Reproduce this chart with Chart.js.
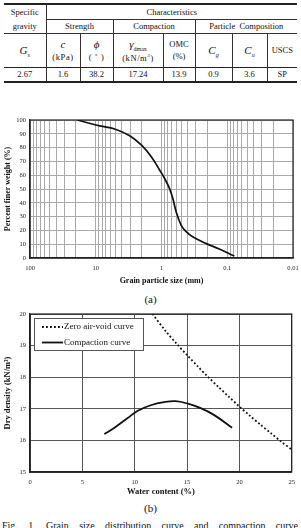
<!DOCTYPE html>
<html><head><meta charset="utf-8">
<script src="https://cdn.jsdelivr.net/npm/chart.js@4"></script>
<style>
html,body{margin:0;padding:0;background:#fff;width:301px;height:528px;overflow:hidden;font-family:"Liberation Serif",serif;color:#111}
#tbl{position:absolute;left:4px;top:3px;width:293px;border-collapse:collapse;table-layout:fixed;font-size:8.5px;text-align:center;color:#111}
#tbl td{padding:0;line-height:1;white-space:nowrap;overflow:hidden;vertical-align:middle}
#tbl tr.r1 td{border-top:2px solid #222;height:14px}
#tbl tr.r2 td{height:13px}
#tbl tr.r3 td{height:33px;border-top:1px solid #333;border-bottom:1.5px solid #222;line-height:1.35}
#tbl tr.r4 td{height:13px;border-bottom:2px solid #222}
.br{border-right:1px solid #333}
.bb{border-bottom:1px solid #333}
.it{font-style:italic;font-size:11px}
.u{letter-spacing:0.6px}
.box{position:absolute}
.cap{position:absolute;left:0;width:301px;text-align:center;font-size:11px}
#fig{position:absolute;left:2px;top:519.5px;width:296px;font-size:10px;text-align:justify;text-align-last:justify;white-space:nowrap;word-spacing:4px}
</style></head>
<body>
<table id="tbl">
<colgroup><col style="width:42px"><col style="width:34px"><col style="width:33px"><col style="width:50px"><col style="width:32px"><col style="width:37px"><col style="width:35px"><col style="width:30px"></colgroup>
<tr class="r1"><td rowspan="2" class="br" style="line-height:14px">Specific<br>gravity</td><td colspan="7" class="bb">Characteristics</td></tr>
<tr class="r2"><td colspan="2" class="br">Strength</td><td colspan="2" class="br">Compaction</td><td colspan="3">Particle&nbsp; Composition</td></tr>
<tr class="r3"><td class="br"><span class="it">G</span><sub style="font-style:italic;font-size:6px">s</sub></td><td class="br"><span class="it">c</span><br><span class="u">(kPa)</span></td><td class="br"><span class="it">ϕ</span><br><span class="u">(&nbsp;˚&nbsp;)</span></td><td class="br"><span class="it">γ</span><sub style="font-size:6px">dmax</sub><br><span class="u">(kN/m<sup style="font-size:5px">3</sup>)</span></td><td class="br">OMC<br>(%)</td><td class="br"><span class="it">C</span><sub style="font-style:italic;font-size:6px">g</sub></td><td class="br"><span class="it">C</span><sub style="font-style:italic;font-size:6px">u</sub></td><td>USCS</td></tr>
<tr class="r4"><td class="br">2.67</td><td class="br">1.6</td><td class="br">38.2</td><td class="br">17.24</td><td class="br">13.9</td><td class="br">0.9</td><td class="br">3.6</td><td>SP</td></tr>
</table>

<div class="box" style="left:0;top:110px;width:301px;height:180px"><canvas id="ca"></canvas></div>
<div class="cap" style="top:293px">(a)</div>
<div class="box" style="left:0;top:306px;width:301px;height:194px"><canvas id="cb"></canvas></div>
<div class="cap" style="top:502px">(b)</div>
<div id="fig">Fig. 1. Grain size distribution curve and compaction curve</div>

<script>
// ---- data: (a) grain size distribution ----
const grainSize = [19, 8.7, 5.15, 3.05, 2.03, 1.43, 1.07, 0.90, 0.757, 0.674, 0.599, 0.504, 0.422, 0.336, 0.211, 0.132, 0.078];
const percentFiner = [100, 95.7, 93.5, 88.6, 81.9, 73.4, 63.8, 57.8, 50.5, 43.3, 33.6, 23.9, 19.1, 15.4, 10.6, 6.5, 1.4];
const sizeDecades = [100, 10, 1, 0.1, 0.01];
const sizeTickLabels = ['100', '10', '1', '0.1', '0.01'];

// ---- data: (b) compaction ----
const zavWater = [11.7, 13, 14, 15, 16, 17, 18, 19, 20, 21, 22, 23, 24, 25];
const zavDensity = [20.0, 19.44, 19.06, 18.70, 18.35, 18.01, 17.69, 17.38, 17.07, 16.78, 16.50, 16.23, 15.96, 15.71];
const compWater = [7.1, 8.1, 9.3, 10.3, 11.6, 12.8, 13.9, 15.0, 16.3, 17.6, 19.3];
const compDensity = [16.20, 16.41, 16.70, 16.94, 17.12, 17.21, 17.24, 17.17, 17.02, 16.80, 16.40];
const seriesLabels = ['Zero air-void curve', 'Compaction curve'];

const SERIF = '"Liberation Serif", "Times New Roman", serif';
Chart.defaults.font.family = SERIF;
Chart.defaults.color = '#222';

const framePlugin = {
  id: 'frame',
  afterDraw(chart) {
    const a = chart.chartArea, ctx = chart.ctx;
    ctx.save();
    ctx.strokeStyle = '#222';
    ctx.lineWidth = 1.2;
    ctx.strokeRect(a.left, a.top, a.right - a.left, a.bottom - a.top);
    ctx.restore();
  }
};

// (a)
new Chart(document.getElementById('ca'), {
  type: 'line',
  data: {
    datasets: [{
      data: grainSize.map((s, i) => ({x: s, y: percentFiner[i]})),
      borderColor: '#111', borderWidth: 1.7, pointRadius: 0, tension: 0.4, fill: false
    }]
  },
  options: {
    responsive: true, maintainAspectRatio: false, animation: false, devicePixelRatio: 1,
    layout: {padding: {top: 10, right: 8, left: 0, bottom: 0}},
    plugins: {legend: {display: false}, tooltip: {enabled: false}},
    scales: {
      x: {
        type: 'logarithmic', reverse: true, min: 0.01, max: 100,
        afterBuildTicks(scale) {
          const t = [];
          for (let e = -2; e <= 1; e++) for (let j = 1; j <= 9; j++) t.push({value: +(j * Math.pow(10, e)).toPrecision(6)});
          t.push({value: 100});
          scale.ticks = t;
        },
        afterFit(scale) { scale.height = 32; },
        ticks: {
          autoSkip: false, maxRotation: 0, padding: 6, font: {size: 6.5},
          callback(v) { const i = sizeDecades.findIndex(d => Math.abs(d - v) < d * 1e-6); return i >= 0 ? sizeTickLabels[i] : ''; }
        },
        grid: {color: '#aaa', lineWidth: 1, drawTicks: false},
        border: {color: '#222', width: 1.2},
        title: {display: true, text: 'Grain particle size (mm)', font: {size: 8, weight: 'bold'}, padding: {top: 0, bottom: 4}, color: '#111'}
      },
      y: {
        min: 0, max: 100,
        afterFit(scale) { scale.width = 30; },
        ticks: {stepSize: 10, padding: 4, font: {size: 6.5}},
        grid: {color: '#aaa', lineWidth: 1, drawTicks: false},
        border: {color: '#222', width: 1.2},
        title: {display: true, text: 'Percent finer weight (%)', font: {size: 8, weight: 'bold'}, padding: {top: 3, bottom: 0}, color: '#111'}
      }
    }
  },
  plugins: [framePlugin]
});

// (b)
const legendBoxPlugin = {
  id: 'legendBox',
  afterDraw(chart) {
    const a = chart.chartArea, ctx = chart.ctx;
    const x0 = a.left + 4, y0 = a.top + 4, w = 109, h = 32;
    ctx.save();
    ctx.fillStyle = '#fff';
    ctx.fillRect(x0, y0, w, h);
    ctx.strokeStyle = '#555';
    ctx.lineWidth = 1;
    ctx.strokeRect(x0 + 0.5, y0 + 0.5, w, h);
    ctx.font = '9px ' + SERIF;
    ctx.textBaseline = 'middle';
    ctx.fillStyle = '#111';
    chart.data.datasets.forEach((ds, i) => {
      const yy = y0 + 9 + i * 15.5;
      ctx.beginPath();
      ctx.setLineDash(ds.borderDash || []);
      ctx.strokeStyle = ds.borderColor;
      ctx.lineWidth = ds.borderWidth;
      ctx.moveTo(x0 + 8, yy);
      ctx.lineTo(x0 + 29, yy);
      ctx.stroke();
      ctx.setLineDash([]);
      ctx.fillText(ds.label, x0 + 30, yy);
    });
    ctx.restore();
  }
};

new Chart(document.getElementById('cb'), {
  type: 'line',
  data: {
    datasets: [
      {label: seriesLabels[0], data: zavWater.map((w, i) => ({x: w, y: zavDensity[i]})),
       borderColor: '#111', borderWidth: 1.8, borderDash: [1.8, 2.2], pointRadius: 0, tension: 0.3, fill: false},
      {label: seriesLabels[1], data: compWater.map((w, i) => ({x: w, y: compDensity[i]})),
       borderColor: '#111', borderWidth: 1.8, pointRadius: 0, tension: 0.4, fill: false}
    ]
  },
  options: {
    responsive: true, maintainAspectRatio: false, animation: false, devicePixelRatio: 1,
    layout: {padding: {top: 8, right: 8, left: 0, bottom: 0}},
    plugins: {legend: {display: false}, tooltip: {enabled: false}},
    scales: {
      x: {
        type: 'linear', min: 0, max: 25,
        afterFit(scale) { scale.height = 28; },
        ticks: {stepSize: 5, padding: 6, font: {size: 6.5}, maxRotation: 0},
        grid: {color: '#555', lineWidth: 1, drawTicks: false},
        border: {color: '#222', width: 1.2},
        title: {display: true, text: 'Water content (%)', font: {size: 8.5, weight: 'bold'}, padding: {top: 0, bottom: 3}, color: '#111'}
      },
      y: {
        min: 15, max: 20,
        afterFit(scale) { scale.width = 30; },
        ticks: {stepSize: 1, padding: 4, font: {size: 6.5}},
        grid: {color: '#555', lineWidth: 1, drawTicks: false},
        border: {color: '#222', width: 1.2},
        title: {display: true, text: 'Dry density (kN/m³)', font: {size: 8.5, weight: 'bold'}, padding: {top: 3, bottom: 0}, color: '#111'}
      }
    }
  },
  plugins: [framePlugin, legendBoxPlugin]
});
</script>
</body></html>
